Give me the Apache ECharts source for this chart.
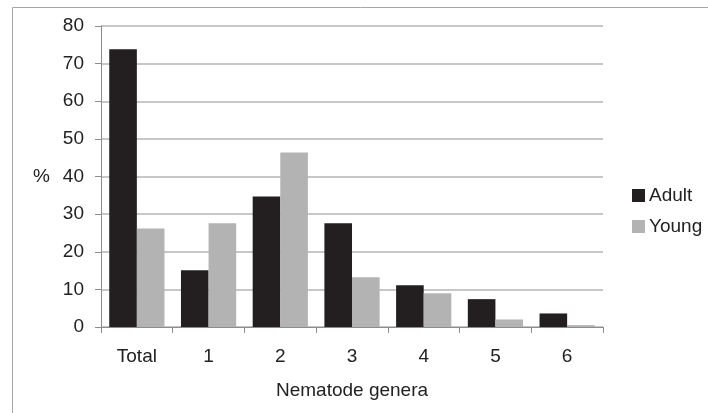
<!DOCTYPE html>
<html><head><meta charset="utf-8">
<script src="https://cdn.jsdelivr.net/npm/echarts@6/dist/echarts.min.js"></script>
<style>html,body{margin:0;padding:0;background:#fff}#c{width:708px;height:413px}</style>
</head><body><div id="c"></div>
<script>
var categories = ['Total', '1', '2', '3', '4', '5', '6'];
var adult = [73.8, 15.1, 34.7, 27.6, 11.1, 7.4, 3.6];
var young = [26.2, 27.6, 46.4, 13.2, 9.0, 2.0, 0.5];
var seriesNames = ['Adult', 'Young'];
var yTicks = {min: 0, max: 80, interval: 10};

var chart = echarts.init(document.getElementById('c'));
var font = 'Liberation Sans, Arial, sans-serif';
chart.setOption({
  animation: false,
  textStyle: {fontFamily: font},
  graphic: [{type: 'rect', shape: {x: 12.5, y: 7.5, width: 720, height: 420}, style: {fill: 'none', stroke: '#a6a6a6', lineWidth: 1}, silent: true, z: -1}],
  grid: {left: 101, right: 105, top: 26, bottom: 86, containLabel: false},
  legend: {
    orient: 'vertical', left: 632, top: 186, padding: 0, itemWidth: 13, itemHeight: 13, itemGap: 12,
    icon: 'rect', data: seriesNames,
    textStyle: {fontSize: 19, color: '#222', fontFamily: font, padding: [0, 0, 0, -1]}
  },
  xAxis: {
    type: 'category', data: categories,
    name: 'Nematode genera', nameLocation: 'middle', nameGap: 54,
    nameTextStyle: {fontSize: 19, color: '#222', fontFamily: font},
    axisLine: {lineStyle: {color: '#8c8c8c', width: 1}},
    axisTick: {show: true, length: 6, lineStyle: {color: '#8c8c8c'}},
    axisLabel: {fontSize: 19, color: '#222', margin: 20, fontFamily: font}
  },
  yAxis: {
    type: 'value', min: yTicks.min, max: yTicks.max, interval: yTicks.interval,
    name: '%', nameLocation: 'middle', nameRotate: 0, nameGap: 51,
    nameTextStyle: {fontSize: 19, color: '#222', fontFamily: font},
    axisLine: {show: true, lineStyle: {color: '#8c8c8c', width: 1}},
    axisTick: {show: true, length: 6, lineStyle: {color: '#8c8c8c'}},
    axisLabel: {fontSize: 19, color: '#222', margin: 17, fontFamily: font},
    splitLine: {lineStyle: {color: '#b5b5b5', width: 1.5}}
  },
  series: [
    {name: seriesNames[0], type: 'bar', data: adult, barGap: '0%', barCategoryGap: '23%', itemStyle: {color: '#231f20'}},
    {name: seriesNames[1], type: 'bar', data: young, barGap: '0%', barCategoryGap: '23%', itemStyle: {color: '#b3b3b3'}}
  ]
});
</script></body></html>
